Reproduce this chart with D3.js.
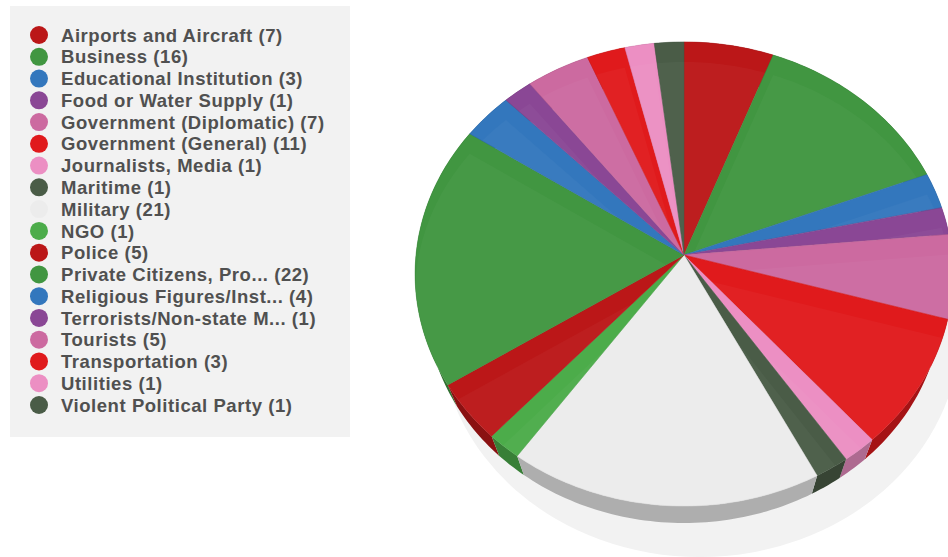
<!DOCTYPE html>
<html>
<head>
<meta charset="utf-8">
<script src="https://cdn.jsdelivr.net/npm/d3@7/dist/d3.min.js"></script>
<style>
html, body { margin: 0; padding: 0; background: #fff; }
svg { display: block; }
text { font-family: "Liberation Sans", Arial, sans-serif; }
</style>
</head>
<body>
<svg id="chart" width="948" height="557"></svg>
<script>
// Attack targets and their incident counts
const categories = ["Airports and Aircraft", "Business", "Educational Institution", "Food or Water Supply",
  "Government (Diplomatic)", "Government (General)", "Journalists, Media", "Maritime", "Military", "NGO",
  "Police", "Private Citizens, Pro...", "Religious Figures/Inst...", "Terrorists/Non-state M...", "Tourists",
  "Transportation", "Utilities", "Violent Political Party"];
const counts = [7, 16, 3, 1, 7, 11, 1, 1, 21, 1, 5, 22, 4, 1, 5, 3, 1, 1];
const colors = ["#bb1718", "#419641", "#3377bd", "#8a4795", "#cc6aa0", "#e01a1c", "#ec8fc3", "#4a5c47", "#ececec",
  "#4cac4a", "#bb1718", "#419641", "#3377bd", "#8a4795", "#cc6aa0", "#e01a1c", "#ec8fc3", "#4a5c47"];

// Very small categories are given a floor so their wedges stay legible
const minSliceCount = 2.3;

const svg = d3.select("#chart");
const defs = svg.append("defs");

// Legend panel
const legendRows = d3.scalePoint().domain(d3.range(categories.length)).range([35, 405]);
svg.append("rect").attr("x", 10).attr("y", 6).attr("width", 340).attr("height", 431).attr("fill", "#f2f2f2");
const rows = svg.append("g").selectAll("g").data(categories).join("g")
  .attr("transform", (d, i) => `translate(0,${legendRows(i)})`);
rows.append("circle").attr("cx", 39).attr("r", 9).attr("fill", (d, i) => colors[i]);
rows.append("text").attr("x", 61).attr("dy", "0.36em")
  .attr("font-size", 18.5).attr("font-weight", "bold").attr("letter-spacing", 0.55).attr("fill", "#505050")
  .text((d, i) => `${d} (${counts[i]})`);

// Tilted disc: (u, v) on the unit circle projected around the apex of the pie
const apex = { x: 684, y: 255 };
const persp = { a: 268, b: 230.5, k: 0.0819 };
function project(u, v) {
  const w = 1 - persp.k * v;
  return [apex.x + persp.a * u / w, apex.y + persp.b * v / w];
}
function rim(angle) { return project(Math.sin(angle), -Math.cos(angle)); }
// Lower edge of the disc: narrower and dropped below the top face
function base(p) {
  return [apex.x + (p[0] - apex.x) * 0.96, apex.y + (p[1] - apex.y) * 0.96 + 27];
}
function arcAngles(a0, a1) {
  const steps = Math.max(2, Math.ceil((a1 - a0) / 0.02));
  return d3.range(steps + 1).map(i => a0 + (a1 - a0) * i / steps);
}
const line = d3.line().curve(d3.curveLinear);

const slices = d3.pie().sort(null).value(d => Math.max(d, minSliceCount))(counts);

// Shadow beneath the pie
svg.append("ellipse").attr("cx", 700).attr("cy", 330).attr("rx", 260).attr("ry", 227).attr("fill", "#f2f2f2");

// Outer walls, painted from the back of the disc to the front
const wallOrder = slices.slice().sort((p, q) =>
  -Math.cos((p.startAngle + p.endAngle) / 2) - -Math.cos((q.startAngle + q.endAngle) / 2));
svg.append("g").selectAll("path").data(wallOrder).join("path")
  .attr("fill", d => d3.color(colors[d.index]).darker(0.85))
  .attr("d", d => {
    const top = arcAngles(d.startAngle, d.endAngle).map(rim);
    return line(top.concat(top.map(base).reverse())) + "Z";
  });

// Top faces
const faces = svg.append("g");
function wedgePath(d) {
  return line([[apex.x, apex.y]].concat(arcAngles(d.startAngle, d.endAngle).map(rim))) + "Z";
}
slices.forEach(d => {
  defs.append("clipPath").attr("id", `wedge-${d.index}`).append("path").attr("d", wedgePath(d));
});
faces.selectAll("path.face").data(slices).join("path").attr("class", "face")
  .attr("fill", d => colors[d.index])
  .attr("stroke", d => d3.color(colors[d.index]).darker(0.2)).attr("stroke-width", 0.5)
  .attr("d", wedgePath);

// Soft highlight: each wedge repeated a little lower and kept inside its own outline
const highlightDrop = 20;
faces.selectAll("g.glow").data(slices).join("g").attr("class", "glow")
  .attr("clip-path", d => `url(#wedge-${d.index})`)
  .append("path")
  .attr("transform", `translate(0,${highlightDrop})`)
  .attr("fill", "#fff").attr("fill-opacity", 0.03)
  .attr("d", wedgePath);
</script>
</body>
</html>
